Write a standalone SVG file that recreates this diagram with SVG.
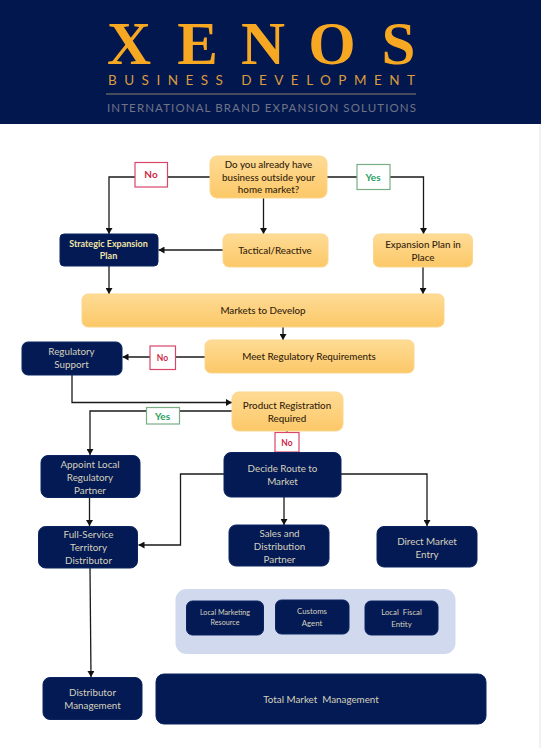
<svg xmlns="http://www.w3.org/2000/svg" width="541" height="748" viewBox="0 0 541 748">
<style>
text{font-family:"Lato","Liberation Sans",sans-serif;text-anchor:middle}
.o{fill:url(#og);stroke:#fbd68d;stroke-width:1}
.n{fill:#031a54;stroke:#0b2460;stroke-width:1}
.ot{fill:#33230c;font-size:9.800px;font-weight:500}
.nt{fill:#d6d1bd;font-size:9.800px}
.st{fill:#d6d1bd;font-size:7.200px}
.lb{fill:#fff;stroke-width:1.2}
.lr{stroke:#d8466a}
.lg{stroke:#79ad84}
.tr{fill:#d01f45;font-weight:700;font-size:10px}
.tg{fill:#27a060;font-weight:700;font-size:10px}
.c{fill:none;stroke:#1a1a1a;stroke-width:1.3;marker-end:url(#a)}
.p{fill:none;stroke:#1a1a1a;stroke-width:1.3}
</style>
<defs>
<linearGradient id="og" x1="0" y1="0" x2="0" y2="1"><stop offset="0" stop-color="#fedb95"/><stop offset="1" stop-color="#fcc868"/></linearGradient>
<marker id="a" markerUnits="userSpaceOnUse" markerWidth="7" markerHeight="7" refX="6" refY="3.500" orient="auto"><path d="M0 0L6 3.500L0 7z" fill="#111"/></marker>
</defs>
<rect width="541" height="748" fill="#fff"/>
<rect x="539" y="124" width="2" height="624" fill="#f2f2f4"/>
<g id="header">
<rect width="541" height="124" fill="#03174f"/>
<text x="129 197.500 263 332 398.500" y="63.500" style="font-family:'Liberation Serif',serif;font-size:61px;font-weight:700" fill="#f7a823">XENOS</text>
<text x="261.500" y="85" textLength="307" style="font-size:13.500px" fill="#d99c3c">BUSINESS DEVELOPMENT</text>
<rect x="106" y="93.500" width="310" height="1" fill="#8f8266"/>
<text x="261.500" y="112" textLength="309" style="font-size:11.500px" fill="#6f7485">INTERNATIONAL BRAND EXPANSION SOLUTIONS</text>
</g>
<g id="connectors">
<path class="c" d="M210 177H109V234"/>
<path class="c" d="M327 177H423.500V234"/>
<path class="c" d="M263.500 198V234"/>
<path class="c" d="M223 250H158.500"/>
<path class="c" d="M109 266V294"/>
<path class="c" d="M423 267V294"/>
<path class="c" d="M283 327V340"/>
<path class="c" d="M205 357H122.500"/>
<path class="c" d="M72 375V402.500H232"/>
<path class="c" d="M232 411H90V455"/>
<path class="p" d="M287 431V452"/>
<path class="c" d="M224 474H180.500V545H138.500"/>
<path class="c" d="M341 474H427V526"/>
<path class="c" d="M284 497V525"/>
<path class="c" d="M89.500 498V526"/>
<path class="c" d="M90 568L91 677"/>
</g>
<g id="label-no-1"><rect class="lb lr" x="135" y="162.500" width="32.500" height="24.500"/><text class="tr" x="151" y="178">No</text></g>
<g id="label-yes-1"><rect class="lb lg" x="357" y="164.500" width="33" height="25"/><text class="tg" x="373" y="181">Yes</text></g>
<g id="label-no-2"><rect class="lb lr" x="150" y="346" width="25.500" height="23.500"/><text class="tr" x="162.500" y="361" style="font-size:8.500px">No</text></g>
<g id="label-yes-2"><rect class="lb lg" x="146.500" y="407.500" width="33" height="16.500"/><text class="tg" x="162.500" y="419.500">Yes</text></g>
<g id="label-no-3"><rect class="lb lr" x="275" y="432.500" width="24" height="19.500"/><text class="tr" x="287" y="445.500" style="font-size:8.500px">No</text></g>
<g id="question"><rect class="o" x="210" y="156" width="117" height="42" rx="7"/><text class="ot" x="268.500" y="168">Do you already have</text><text class="ot" x="268.500" y="181">business outside your</text><text class="ot" x="268.500" y="193">home market?</text></g>
<g id="strategic"><rect class="n" x="60" y="234" width="98" height="32" rx="4"/><text x="108.500" y="247" font-size="9" font-weight="700" fill="#f0e4a6">Strategic Expansion</text><text x="108.500" y="259" font-size="9" font-weight="700" fill="#f0e4a6">Plan</text></g>
<g id="tactical"><rect class="o" x="223" y="234" width="105" height="33" rx="6"/><text class="ot" x="275" y="254">Tactical/Reactive</text></g>
<g id="expansion"><rect class="o" x="373.500" y="234" width="99" height="33" rx="6"/><text class="ot" x="423" y="248">Expansion Plan in</text><text class="ot" x="423" y="261">Place</text></g>
<g id="markets"><rect class="o" x="82" y="294" width="362" height="33" rx="6"/><text class="ot" x="263" y="314">Markets to Develop</text></g>
<g id="regulatory-support"><rect class="n" x="22" y="342" width="100" height="33" rx="6"/><text class="nt" x="71.500" y="355">Regulatory</text><text class="nt" x="71.500" y="368">Support</text></g>
<g id="meet"><rect class="o" x="205" y="340" width="209" height="33" rx="6"/><text class="ot" x="309" y="360">Meet Regulatory Requirements</text></g>
<g id="product"><rect class="o" x="232" y="392" width="111" height="39" rx="7"/><text class="ot" x="287" y="409">Product Registration</text><text class="ot" x="287" y="422">Required</text></g>
<g id="appoint"><rect class="n" x="41" y="455.500" width="99" height="42" rx="7"/><text class="nt" x="90" y="468">Appoint Local</text><text class="nt" x="90" y="481">Regulatory</text><text class="nt" x="90" y="494">Partner</text></g>
<g id="decide"><rect class="n" x="224" y="452.500" width="117" height="44.500" rx="7"/><text class="nt" x="282.500" y="472">Decide Route to</text><text class="nt" x="282.500" y="485">Market</text></g>
<g id="full-service"><rect class="n" x="38.500" y="526.500" width="99" height="41.500" rx="7"/><text class="nt" x="88.500" y="538">Full-Service</text><text class="nt" x="88.500" y="551">Territory</text><text class="nt" x="88.500" y="564">Distributor</text></g>
<g id="sales"><rect class="n" x="229" y="525" width="100" height="41" rx="7"/><text class="nt" x="279.500" y="537">Sales and</text><text class="nt" x="279.500" y="549.500">Distribution</text><text class="nt" x="279.500" y="562.500">Partner</text></g>
<g id="direct"><rect class="n" x="377" y="526.500" width="100" height="40.500" rx="7"/><text class="nt" x="427" y="545">Direct Market</text><text class="nt" x="427" y="557.500">Entry</text></g>
<g id="local-group"><rect x="175.500" y="589" width="280" height="65" rx="11" fill="#d0d9ee"/></g>
<g id="local-marketing"><rect class="n" x="186.500" y="601" width="77" height="34" rx="6"/><text class="st" x="225" y="615">Local Marketing</text><text class="st" x="225" y="625">Resource</text></g>
<g id="customs"><rect class="n" x="275.500" y="600" width="73.500" height="34" rx="6"/><text class="st" x="312" y="614" style="font-size:7.800px">Customs</text><text class="st" x="312" y="626" style="font-size:7.800px">Agent</text></g>
<g id="fiscal"><rect class="n" x="365" y="601" width="73" height="34" rx="6"/><text class="st" x="401.500" y="615" style="font-size:7.800px" xml:space="preserve">Local  Fiscal</text><text class="st" x="401.500" y="627" style="font-size:7.800px">Entity</text></g>
<g id="distributor"><rect class="n" x="43" y="677.500" width="99" height="42" rx="7"/><text class="nt" x="92.500" y="696">Distributor</text><text class="nt" x="92.500" y="709">Management</text></g>
<g id="total"><rect class="n" x="156" y="674" width="330" height="50" rx="8"/><text class="nt" x="321" y="703" xml:space="preserve">Total Market  Management</text></g>
</svg>
